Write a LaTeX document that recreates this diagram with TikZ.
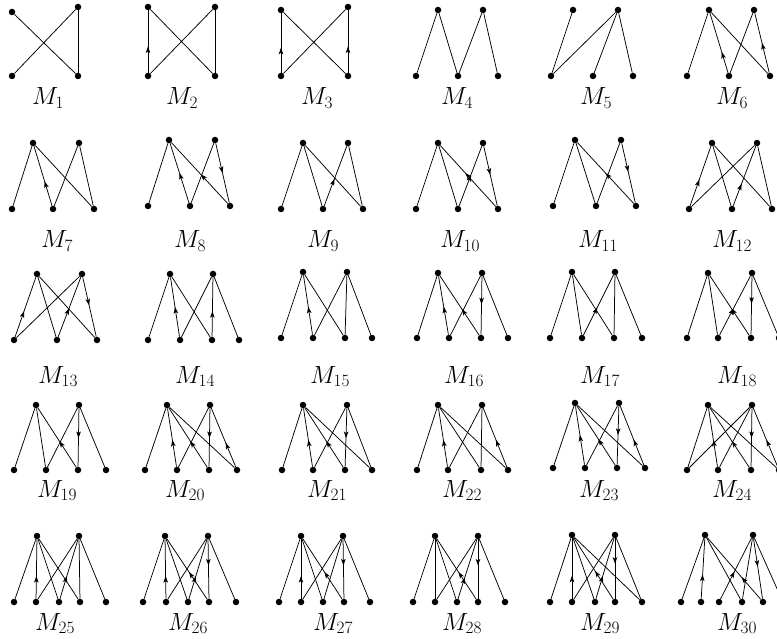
\documentclass[tikz,border=0pt]{standalone}
\usetikzlibrary{arrows.meta,decorations.markings}
\newcommand\lnk[2]{\draw[ln] (#1) -- (#2);}
\newcommand\alnk[3]{\draw[ln,arr=#1] (#2) -- (#3);}
\begin{document}
\begin{tikzpicture}[x=1pt,y=-1pt,
  dot/.style={circle,fill=black,inner sep=0pt,minimum size=6.5pt},
  ln/.style={draw=black,line width=0.75pt},
  arr/.style={postaction={decorate},decoration={markings,mark=at position #1 with {\arrow{Stealth[length=6.5pt,width=4.5pt,inset=1.5pt]}}}},
  lab/.style={anchor=base,inner sep=0pt,font=\fontsize{23}{27}\selectfont}]
\path[use as bounding box] (0,0) rectangle (777,639);
\clip (0,0) rectangle (777,639);
% ---------- Row 1 ----------
% M1
\node[dot] (g1tl) at (12,12) {}; \node[dot] (g1tr) at (78,7) {};
\node[dot] (g1bl) at (12,76) {}; \node[dot] (g1br) at (78,76) {};
\lnk{g1tl}{g1br} \lnk{g1bl}{g1tr} \lnk{g1tr}{g1br}
\node[lab] (l1) at (48,105) {$M_{1}$};
% M2
\node[dot] (g2tl) at (148,7) {}; \node[dot] (g2tr) at (215,7) {};
\node[dot] (g2bl) at (148,76) {}; \node[dot] (g2br) at (215,76) {};
\alnk{0.42}{g2bl}{g2tl} \lnk{g2tl}{g2br} \lnk{g2bl}{g2tr} \lnk{g2tr}{g2br}
\node[lab] (l2) at (182,105) {$M_{2}$};
% M3
\node[dot] (g3tl) at (281,10) {}; \node[dot] (g3tr) at (348,7) {};
\node[dot] (g3bl) at (281,76) {}; \node[dot] (g3br) at (348,76) {};
\alnk{0.42}{g3bl}{g3tl} \lnk{g3tl}{g3br} \lnk{g3bl}{g3tr} \alnk{0.42}{g3br}{g3tr}
\node[lab] (l3) at (317,105) {$M_{3}$};
% M4
\node[dot] (g4t1) at (438,10) {}; \node[dot] (g4t2) at (483,10) {};
\foreach \x [count=\i] in {416,458,498} \node[dot] (g4b\i) at (\x,76) {};
\lnk{g4b1}{g4t1} \lnk{g4t1}{g4b2} \lnk{g4b2}{g4t2} \lnk{g4t2}{g4b3}
\node[lab] (l4) at (457,105) {$M_{4}$};
% M5
\node[dot] (g5t1) at (573,10) {}; \node[dot] (g5t2) at (618,10) {};
\foreach \x [count=\i] in {551,593,633} \node[dot] (g5b\i) at (\x,76) {};
\lnk{g5b1}{g5t1} \lnk{g5b1}{g5t2} \lnk{g5t2}{g5b2} \lnk{g5t2}{g5b3}
\node[lab] (l5) at (596,105) {$M_{5}$};
% M6
\node[dot] (g6t1) at (709,10) {}; \node[dot] (g6t2) at (754,10) {};
\foreach \x [count=\i] in {687,729,770} \node[dot] (g6b\i) at (\x,76) {};
\lnk{g6b1}{g6t1} \alnk{0.35}{g6b2}{g6t1} \lnk{g6t1}{g6b3} \lnk{g6b2}{g6t2} \alnk{0.5}{g6b3}{g6t2}
\node[lab] (l6) at (732,105) {$M_{6}$};
% ---------- Row 2 ----------
% M7
\node[dot] (g7t1) at (33,143) {}; \node[dot] (g7t2) at (79,143) {};
\foreach \x [count=\i] in {12,53,94} \node[dot] (g7b\i) at (\x,209) {};
\lnk{g7b1}{g7t1} \alnk{0.41}{g7b2}{g7t1} \lnk{g7t1}{g7b3} \lnk{g7b2}{g7t2} \lnk{g7t2}{g7b3}
\node[lab] (l7) at (57,248) {$M_{7}$};
% M8
\node[dot] (g8t1) at (169,140) {}; \node[dot] (g8t2) at (215,140) {};
\foreach \x [count=\i] in {148,190,230} \node[dot] (g8b\i) at (\x,206) {};
\lnk{g8b1}{g8t1} \alnk{0.5}{g8b2}{g8t1} \alnk{0.48}{g8b3}{g8t1} \lnk{g8b2}{g8t2} \alnk{0.5}{g8t2}{g8b3}
\node[lab] (l8) at (190,248) {$M_{8}$};
% M9
\node[dot] (g9t1) at (303,143) {}; \node[dot] (g9t2) at (348,143) {};
\foreach \x [count=\i] in {281,323,363} \node[dot] (g9b\i) at (\x,209) {};
\lnk{g9b1}{g9t1} \lnk{g9t1}{g9b2} \lnk{g9t1}{g9b3} \alnk{0.45}{g9b2}{g9t2} \lnk{g9t2}{g9b3}
\node[lab] (l9) at (323,248) {$M_{9}$};
% M10
\node[dot] (g10t1) at (438,143) {}; \node[dot] (g10t2) at (483,143) {};
\foreach \x [count=\i] in {416,458,498} \node[dot] (g10b\i) at (\x,209) {};
\lnk{g10b1}{g10t1} \lnk{g10t1}{g10b2} \alnk{0.55}{g10b3}{g10t1} \alnk{0.52}{g10b2}{g10t2} \alnk{0.48}{g10t2}{g10b3}
\node[lab] (l10) at (460,248) {$M_{10}$};
% M11
\node[dot] (g11t1) at (575,140) {}; \node[dot] (g11t2) at (621,140) {};
\foreach \x [count=\i] in {553,596,636} \node[dot] (g11b\i) at (\x,206) {};
\lnk{g11b1}{g11t1} \lnk{g11t1}{g11b2} \alnk{0.5}{g11b3}{g11t1} \lnk{g11b2}{g11t2} \alnk{0.48}{g11t2}{g11b3}
\node[lab] (l11) at (598,248) {$M_{11}$};
% M12
\node[dot] (g12t1) at (712,143) {}; \node[dot] (g12t2) at (757,143) {};
\foreach \x [count=\i] in {689,732,772} \node[dot] (g12b\i) at (\x,209) {};
\alnk{0.44}{g12b1}{g12t1} \lnk{g12b1}{g12t2} \lnk{g12t1}{g12b2} \lnk{g12t1}{g12b3} \alnk{0.37}{g12b2}{g12t2} \lnk{g12t2}{g12b3}
\node[lab] (l12) at (732,248) {$M_{12}$};
% ---------- Row 3 ----------
% M13
\node[dot] (g13t1) at (37,274) {}; \node[dot] (g13t2) at (82,274) {};
\foreach \x [count=\i] in {14,57,97} \node[dot] (g13b\i) at (\x,340) {};
\alnk{0.43}{g13b1}{g13t1} \lnk{g13b1}{g13t2} \lnk{g13t1}{g13b2} \lnk{g13t1}{g13b3} \alnk{0.48}{g13b2}{g13t2} \alnk{0.47}{g13t2}{g13b3}
\node[lab] (l13) at (58,383) {$M_{13}$};
% M14
\node[dot] (g14t1) at (170,274) {}; \node[dot] (g14t2) at (213,274) {};
\foreach \x [count=\i] in {148,180,212,239} \node[dot] (g14b\i) at (\x,340) {};
\lnk{g14t1}{g14b1} \alnk{0.5}{g14b2}{g14t1} \lnk{g14t1}{g14b3} \lnk{g14b2}{g14t2} \alnk{0.43}{g14b3}{g14t2} \lnk{g14t2}{g14b4}
\node[lab] (l14) at (195,383) {$M_{14}$};
% M15
\node[dot] (g15t1) at (303,272) {}; \node[dot] (g15t2) at (347,272) {};
\foreach \x [count=\i] in {281,313,345,372} \node[dot] (g15b\i) at (\x,338) {};
\lnk{g15t1}{g15b1} \alnk{0.47}{g15b2}{g15t1} \lnk{g15t1}{g15b3} \lnk{g15b2}{g15t2} \lnk{g15t2}{g15b3} \lnk{g15t2}{g15b4}
\node[lab] (l15) at (330,383) {$M_{15}$};
% M16
\node[dot] (g16t1) at (438,273) {}; \node[dot] (g16t2) at (482,273) {};
\foreach \x [count=\i] in {417,449,481,508} \node[dot] (g16b\i) at (\x,338) {};
\lnk{g16t1}{g16b1} \alnk{0.48}{g16b2}{g16t1} \alnk{0.44}{g16b3}{g16t1} \lnk{g16b2}{g16t2} \alnk{0.48}{g16t2}{g16b3} \lnk{g16t2}{g16b4}
\node[lab] (l16) at (464,383) {$M_{16}$};
% M17
\node[dot] (g17t1) at (572,272) {}; \node[dot] (g17t2) at (615,272) {};
\foreach \x [count=\i] in {550,582,614,642} \node[dot] (g17b\i) at (\x,338) {};
\lnk{g17t1}{g17b1} \lnk{g17t1}{g17b2} \lnk{g17t1}{g17b3} \alnk{0.46}{g17b2}{g17t2} \lnk{g17t2}{g17b3} \lnk{g17t2}{g17b4}
\node[lab] (l17) at (600,383) {$M_{17}$};
% M18
\node[dot] (g18t1) at (708,273) {}; \node[dot] (g18t2) at (752,273) {};
\foreach \x [count=\i] in {687,718,751,779} \node[dot] (g18b\i) at (\x,338) {};
\lnk{g18t1}{g18b1} \lnk{g18t1}{g18b2} \alnk{0.45}{g18b3}{g18t1} \alnk{0.45}{g18b2}{g18t2} \alnk{0.47}{g18t2}{g18b3} \lnk{g18t2}{g18b4}
\node[lab] (l18) at (737,383) {$M_{18}$};
% ---------- Row 4 ----------
% M19
\node[dot] (g19t1) at (36,405) {}; \node[dot] (g19t2) at (79,405) {};
\foreach \x [count=\i] in {14,46,78,106} \node[dot] (g19b\i) at (\x,470) {};
\lnk{g19t1}{g19b1} \lnk{g19t1}{g19b2} \alnk{0.44}{g19b3}{g19t1} \lnk{g19b2}{g19t2} \alnk{0.51}{g19t2}{g19b3} \lnk{g19t2}{g19b4}
\node[lab] (l19) at (57,497) {$M_{19}$};
% M20
\node[dot] (g20t1) at (167,405) {}; \node[dot] (g20t2) at (210,405) {};
\foreach \x [count=\i] in {145,177,209,237} \node[dot] (g20b\i) at (\x,470) {};
\lnk{g20t1}{g20b1} \alnk{0.46}{g20b2}{g20t1} \alnk{0.44}{g20b3}{g20t1} \lnk{g20t1}{g20b4} \lnk{g20b2}{g20t2} \alnk{0.51}{g20t2}{g20b3} \alnk{0.41}{g20b4}{g20t2}
\node[lab] (l20) at (185,497) {$M_{20}$};
% M21
\node[dot] (g21t1) at (303,405) {}; \node[dot] (g21t2) at (347,405) {};
\foreach \x [count=\i] in {282,313,345,372} \node[dot] (g21b\i) at (\x,470) {};
\lnk{g21t1}{g21b1} \alnk{0.46}{g21b2}{g21t1} \alnk{0.44}{g21b3}{g21t1} \lnk{g21t1}{g21b4} \lnk{g21b2}{g21t2} \alnk{0.51}{g21t2}{g21b3} \lnk{g21t2}{g21b4}
\node[lab] (l21) at (327,497) {$M_{21}$};
% M22
\node[dot] (g22t1) at (438,405) {}; \node[dot] (g22t2) at (482,405) {};
\foreach \x [count=\i] in {417,448,481,508} \node[dot] (g22b\i) at (\x,470) {};
\lnk{g22t1}{g22b1} \alnk{0.46}{g22b2}{g22t1} \lnk{g22t1}{g22b3} \lnk{g22t1}{g22b4} \lnk{g22b2}{g22t2} \lnk{g22t2}{g22b3} \alnk{0.46}{g22b4}{g22t2}
\node[lab] (l22) at (462,497) {$M_{22}$};
% M23
\node[dot] (g23t1) at (575,403) {}; \node[dot] (g23t2) at (619,403) {};
\foreach \x [count=\i] in {553,585,617,645} \node[dot] (g23b\i) at (\x,468) {};
\lnk{g23t1}{g23b1} \alnk{0.51}{g23b2}{g23t1} \alnk{0.44}{g23b3}{g23t1} \lnk{g23t1}{g23b4} \lnk{g23b2}{g23t2} \alnk{0.49}{g23t2}{g23b3} \alnk{0.43}{g23b4}{g23t2}
\node[lab] (l23) at (599,497) {$M_{23}$};
% M24
\node[dot] (g24t1) at (708,405) {}; \node[dot] (g24t2) at (752,405) {};
\foreach \x [count=\i] in {687,718,751,779} \node[dot] (g24b\i) at (\x,470) {};
\lnk{g24t1}{g24b1} \lnk{g24b1}{g24t2} \alnk{0.46}{g24b2}{g24t1} \alnk{0.44}{g24b3}{g24t1} \lnk{g24t1}{g24b4} \lnk{g24b2}{g24t2} \alnk{0.51}{g24t2}{g24b3} \alnk{0.46}{g24b4}{g24t2}
\node[lab] (l24) at (732,497) {$M_{24}$};
% ---------- Row 5 ----------
% M25
\node[dot] (g25t1) at (37,536) {}; \node[dot] (g25t2) at (79,536) {};
\foreach \x [count=\i] in {14,36,59,80,106} \node[dot] (g25b\i) at (\x,602) {};
\lnk{g25t1}{g25b1} \alnk{0.38}{g25b2}{g25t1} \lnk{g25t1}{g25b3} \lnk{g25t1}{g25b4} \lnk{g25b2}{g25t2} \alnk{0.38}{g25b3}{g25t2} \lnk{g25t2}{g25b4} \lnk{g25t2}{g25b5}
\node[lab] (l25) at (55,630) {$M_{25}$};
% M26
\node[dot] (g26t1) at (165,536) {}; \node[dot] (g26t2) at (208,536) {};
\foreach \x [count=\i] in {143,166,188,209,236} \node[dot] (g26b\i) at (\x,602) {};
\lnk{g26t1}{g26b1} \alnk{0.38}{g26b2}{g26t1} \lnk{g26t1}{g26b3} \alnk{0.45}{g26b4}{g26t1} \lnk{g26b2}{g26t2} \alnk{0.38}{g26b3}{g26t2} \alnk{0.44}{g26t2}{g26b4} \lnk{g26t2}{g26b5}
\node[lab] (l26) at (188,630) {$M_{26}$};
% M27
\node[dot] (g27t1) at (301,536) {}; \node[dot] (g27t2) at (343,536) {};
\foreach \x [count=\i] in {279,301,323,344,370} \node[dot] (g27b\i) at (\x,602) {};
\lnk{g27t1}{g27b1} \alnk{0.38}{g27b2}{g27t1} \lnk{g27t1}{g27b3} \alnk{0.45}{g27b4}{g27t1} \lnk{g27b2}{g27t2} \lnk{g27t2}{g27b3} \alnk{0.44}{g27t2}{g27b4} \lnk{g27t2}{g27b5}
\node[lab] (l27) at (333,630) {$M_{27}$};
% M28
\node[dot] (g28t1) at (435,536) {}; \node[dot] (g28t2) at (478,536) {};
\foreach \x [count=\i] in {413,435,457,478,505} \node[dot] (g28b\i) at (\x,602) {};
\lnk{g28t1}{g28b1} \lnk{g28t1}{g28b2} \lnk{g28t1}{g28b3} \alnk{0.45}{g28b4}{g28t1} \lnk{g28b2}{g28t2} \alnk{0.36}{g28b3}{g28t2} \alnk{0.44}{g28t2}{g28b4} \lnk{g28t2}{g28b5}
\node[lab] (l28) at (462,630) {$M_{28}$};
% M29
\node[dot] (g29t1) at (572,535) {}; \node[dot] (g29t2) at (615,535) {};
\foreach \x [count=\i] in {550,572,595,615,642} \node[dot] (g29b\i) at (\x,602) {};
\lnk{g29t1}{g29b1} \alnk{0.38}{g29b2}{g29t1} \lnk{g29t1}{g29b3} \alnk{0.46}{g29b4}{g29t1} \lnk{g29t1}{g29b5} \lnk{g29b2}{g29t2} \alnk{0.38}{g29b3}{g29t2} \alnk{0.42}{g29t2}{g29b4} \lnk{g29t2}{g29b5}
\node[lab] (l29) at (600,630) {$M_{29}$};
% M30
\node[dot] (g30t1) at (705,535) {}; \node[dot] (g30t2) at (753,535) {};
\foreach \x [count=\i] in {681,701,719,742,763,783} \node[dot] (g30b\i) at (\x,602) {};
\lnk{g30t1}{g30b1} \alnk{0.4}{g30b2}{g30t1} \lnk{g30t1}{g30b4} \alnk{0.36}{g30b5}{g30t1} \alnk{0.45}{g30b3}{g30t2} \lnk{g30t2}{g30b4} \alnk{0.47}{g30t2}{g30b5} \lnk{g30t2}{g30b6}
\node[lab] (l30) at (737,630) {$M_{30}$};
\end{tikzpicture}
\end{document}
